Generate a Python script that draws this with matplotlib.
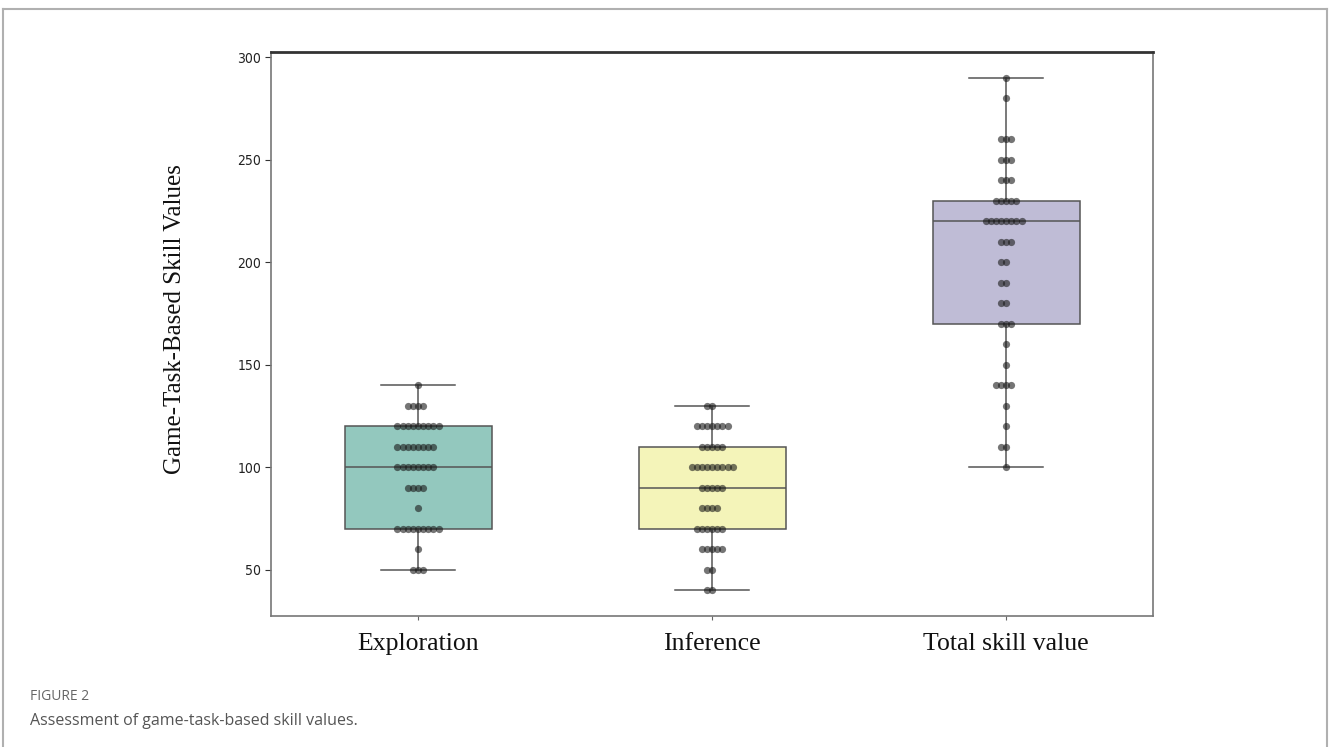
import matplotlib
matplotlib.use("Agg")
import matplotlib.pyplot as plt
from matplotlib.lines import Line2D
import numpy as np

# score levels and how many children reached each one
categories = ["Exploration", "Inference", "Total skill value"]

explore_levels = [50, 60, 70, 80, 90, 100, 110, 120, 130, 140]
explore_counts = [3, 1, 9, 1, 4, 8, 8, 9, 4, 1]

infer_levels = [40, 50, 60, 70, 80, 90, 100, 110, 120, 130]
infer_counts = [2, 2, 5, 6, 4, 5, 9, 5, 7, 2]

total_levels = [100, 110, 120, 130, 140, 150, 160, 170, 180, 190,
                200, 210, 220, 230, 240, 250, 260, 280, 290]
total_counts = [1, 2, 1, 1, 4, 1, 1, 3, 2, 2,
                2, 3, 8, 5, 3, 3, 3, 1, 1]

box_colors = ["#93c8be", "#f4f4b9", "#bfbcd6"]

levels = [explore_levels, infer_levels, total_levels]
counts = [explore_counts, infer_counts, total_counts]
samples = [np.repeat(l, c) for l, c in zip(levels, counts)]

fig = plt.figure(figsize=(13.3, 7.47), dpi=100)
ax = fig.add_axes([0.2038, 0.1754, 0.6632, 0.755])

edge = "#555555"
bp = ax.boxplot(samples, positions=range(3), widths=0.5, patch_artist=True,
                capwidths=0.25, showfliers=False,
                boxprops=dict(edgecolor=edge, linewidth=1.1),
                whiskerprops=dict(color=edge, linewidth=1.1),
                capprops=dict(color=edge, linewidth=1.1),
                medianprops=dict(color=edge, linewidth=1.1))
for patch, c in zip(bp["boxes"], box_colors):
    patch.set_facecolor(c)

# swarm-like rows: points at the same level are spread sideways
dx = 0.0175
for i, (lv, ct) in enumerate(zip(levels, counts)):
    xs, ys = [], []
    for v, n in zip(lv, ct):
        off = (np.arange(n) - n // 2) * dx
        xs.extend(i + off)
        ys.extend([v] * n)
    ax.scatter(xs, ys, s=27, color="#1a1a1a", alpha=0.6, linewidths=0, zorder=5)

ax.set_xlim(-0.5, 2.5)
ax.set_ylim(27.5, 302.5)
ax.set_yticks([50, 100, 150, 200, 250, 300])
ax.set_xticks(range(3))
ax.set_xticklabels(categories, family="Liberation Serif", fontsize=18.5, color="#111111")
ax.tick_params(axis="x", length=3, width=0.8, color="#666666", pad=9)
ax.tick_params(axis="y", length=4, width=0.8, color="#333333", labelsize=10,
               labelcolor="#222222", pad=3)
for lab in ax.get_yticklabels():
    lab.set_fontstretch("condensed")

for side in ["left", "right", "bottom"]:
    ax.spines[side].set_color("#777777")
    ax.spines[side].set_linewidth(1.2)
ax.spines["top"].set_color("#333333")
ax.spines["top"].set_linewidth(2.0)

fig.text(175 / 1330, 0.573, "Game-Task-Based Skill Values", rotation=90,
         ha="center", va="center", family="Liberation Serif", fontsize=18,
         color="#111111")

# caption under the figure
fig.text(30 / 1330, 1 - 697 / 747, "FIGURE 2", family="Open Sans", fontsize=10,
         color="#666666", va="center")
fig.text(30 / 1330, 1 - 721 / 747, "Assessment of game-task-based skill values.",
         family="Open Sans", fontsize=11.5, color="#555555", va="center")

# page frame
W, H = 1330, 747
frame = dict(color="#b0b0b0", linewidth=1.5, transform=fig.transFigure)
fig.add_artist(Line2D([3 / W, 1327 / W], [1 - 9 / H, 1 - 9 / H], **frame))
fig.add_artist(Line2D([3 / W, 3 / W], [1 - 9 / H, 0], **frame))
fig.add_artist(Line2D([1327 / W, 1327 / W], [1 - 9 / H, 0], **frame))

fig.savefig("out.png", dpi=100)
